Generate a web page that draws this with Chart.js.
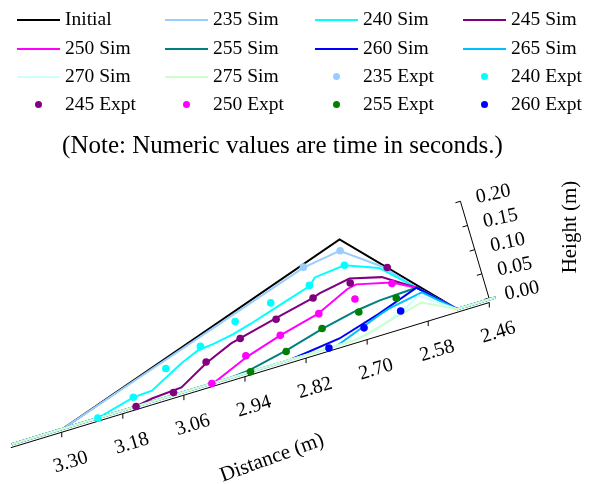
<!DOCTYPE html>
<html>
<head>
<meta charset="utf-8">
<script src="https://cdn.jsdelivr.net/npm/chart.js@4.4.1/dist/chart.umd.min.js"></script>
<style>
  html, body { margin: 0; padding: 0; background: #fff; }
  #wrap { position: relative; width: 589px; height: 484px; font-family: 'Liberation Serif', 'Times New Roman', serif; color: #000; }
  #chart { position: absolute; left: 0; top: 0; }
  #legend { position: absolute; left: 17px; top: 5px; display: grid; grid-template-columns: 148px 150px 148px 120px; grid-auto-rows: 28.4px; }
  .item { display: flex; align-items: center; font-size: 19.5px; white-space: nowrap; }
  .swatch { width: 43px; height: 100%; position: relative; margin-right: 5px; }
  .swatch .line { position: absolute; left: 0; right: 0; top: 50%; height: 2px; margin-top: 0px; }
  .swatch .dot { position: absolute; left: 50%; top: 50%; width: 7px; height: 7px; margin: -3px 0 0 -4px; border-radius: 50%; }
  #note { position: absolute; left: -12px; width: 589px; top: 131px; text-align: center; font-size: 25px; }
</style>
</head>
<body>
<div id="wrap">
  <canvas id="chart" width="589" height="484"></canvas>
  <div id="legend"></div>
  <div id="note">(Note: Numeric values are time in seconds.)</div>
</div>
<script>
// profiles as [distance (m), height (m)]
const initial = [[3.40, 0], [3.30, 0], [2.70, 0.200], [2.525, 0], [2.45, 0]];
const sim235 = [[3.40, 0], [3.30, 0], [3.107, 0.062], [2.781, 0.167], [2.706, 0.178], [2.638, 0.124], [2.587, 0.064], [2.525, 0], [2.45, 0]];
const sim240 = [[3.40, 0], [3.30, 0], [3.231, 0], [3.156, 0.019], [3.119, 0.021], [3.051, 0.056], [3.014, 0.071], [2.984, 0.074], [2.943, 0.081], [2.905, 0.091], [2.842, 0.110], [2.778, 0.129], [2.765, 0.142], [2.705, 0.148], [2.644, 0.123], [2.587, 0.064], [2.525, 0], [2.45, 0]];
const sim245 = [[3.40, 0], [3.30, 0], [3.156, 0], [3.123, 0.006], [3.064, 0.010], [3.006, 0.042], [2.951, 0.065], [2.848, 0.089], [2.779, 0.104], [2.765, 0.109], [2.703, 0.120], [2.644, 0.104], [2.587, 0.064], [2.525, 0], [2.45, 0]];
const sim250 = [[3.40, 0], [3.30, 0], [3.003, 0], [2.928, 0.031], [2.858, 0.052], [2.779, 0.071], [2.713, 0.101], [2.694, 0.105], [2.629, 0.088], [2.587, 0.064], [2.525, 0], [2.45, 0]];
const sim255 = [[3.40, 0], [3.30, 0], [2.975, 0], [2.931, 0.004], [2.854, 0.020], [2.779, 0.040], [2.708, 0.055], [2.660, 0.061], [2.587, 0.064], [2.525, 0], [2.45, 0]];
const sim260 = [[3.40, 0], [3.30, 0], [2.853, 0], [2.753, 0.012], [2.669, 0.036], [2.587, 0.064], [2.525, 0], [2.45, 0]];
const sim265 = [[3.40, 0], [3.30, 0], [2.760, 0], [2.670, 0.033], [2.648, 0.040], [2.580, 0.052], [2.525, 0], [2.45, 0]];
const sim270 = [[3.40, 0], [3.30, 0], [2.730, 0], [2.680, 0.008], [2.620, 0.030], [2.588, 0.048], [2.525, 0], [2.45, 0]];
const sim275 = [[3.40, 0], [3.30, 0], [2.720, 0], [2.676, 0.011], [2.586, 0.033], [2.525, 0], [2.45, 0]];

const exp235 = [[2.780, 0.168], [2.705, 0.178]];
const exp240 = [[3.231, 0], [3.156, 0.019], [3.082, 0.055], [3.008, 0.077], [2.932, 0.104], [2.858, 0.119], [2.779, 0.130], [2.705, 0.148]];
const exp245 = [[3.156, 0], [3.081, 0.005], [3.006, 0.044], [2.932, 0.069], [2.857, 0.085], [2.779, 0.104], [2.704, 0.111], [2.629, 0.119]];
const exp250 = [[3.007, 0], [2.931, 0.033], [2.858, 0.052], [2.777, 0.071], [2.704, 0.078], [2.629, 0.086]];
const exp255 = [[2.931, 0], [2.856, 0.018], [2.779, 0.041], [2.704, 0.051], [2.629, 0.056]];
const exp260 = [[2.777, 0], [2.703, 0.018], [2.628, 0.029]];

const simLabels = ['Initial', '235 Sim', '240 Sim', '245 Sim', '250 Sim', '255 Sim', '260 Sim', '265 Sim', '270 Sim', '275 Sim'];
const simColors = ['#000000', '#99ccff', '#00ffff', '#800080', '#ff00ff', '#008080', '#0000ff', '#00bfff', '#ccffff', '#ccffcc'];
const simData = [initial, sim235, sim240, sim245, sim250, sim255, sim260, sim265, sim270, sim275];

const exptLabels = ['235 Expt', '240 Expt', '245 Expt', '250 Expt', '255 Expt', '260 Expt'];
const exptColors = ['#99ccff', '#00ffff', '#800080', '#ff00ff', '#008000', '#0000ff'];
const exptData = [exp235, exp240, exp245, exp250, exp255, exp260];

const distTicks = [3.30, 3.18, 3.06, 2.94, 2.82, 2.70, 2.58, 2.46];
const heightTicks = [0, 0.05, 0.10, 0.15, 0.20];
const distRange = [3.40, 2.46];

// oblique view: distance runs down-left, height runs up (slightly left)
function project(d, h) {
    return {
        x: 493 - 516 * (d - 2.46) - 145 * h,
        y: 300 + 157 * (d - 2.46) - 492 * h
    };
}

const axisPlugin = {
    id: 'obliqueAxes',
    beforeDatasetsDraw(chart) {
        const { ctx, scales: { x, y } } = chart;
        const px = (p, dx = 0, dy = 0) => [x.getPixelForValue(p.x) + dx, y.getPixelForValue(p.y) + dy];
        ctx.save();
        ctx.strokeStyle = '#000';
        ctx.fillStyle = '#000';
        ctx.lineWidth = 1;
        ctx.font = "20px 'Liberation Serif'";
        ctx.textAlign = 'center';
        ctx.textBaseline = 'middle';

        // distance axis
        const a0 = px(project(distRange[0], 0), -1, 3.5);
        const a1 = px(project(distRange[1], 0), -1, 3.5);
        ctx.beginPath();
        ctx.moveTo(a0[0], a0[1]);
        ctx.lineTo(a1[0], a1[1]);
        ctx.stroke();
        distTicks.forEach(d => {
            const p = px(project(d, 0), -1, 3.5);
            ctx.beginPath();
            ctx.moveTo(p[0], p[1]);
            ctx.lineTo(p[0], p[1] + 5);
            ctx.stroke();
            ctx.save();
            ctx.translate(p[0] + 9, p[1] + 30);
            ctx.rotate(-17 * Math.PI / 180);
            ctx.fillText(d.toFixed(2), 0, 0);
            ctx.restore();
        });

        // height axis
        const h0 = px(project(2.46, 0), -1.3, -1);
        const h1 = px(project(2.46, 0.20), -1.3, -1);
        ctx.beginPath();
        ctx.moveTo(h0[0], h0[1]);
        ctx.lineTo(h1[0], h1[1]);
        ctx.stroke();
        heightTicks.forEach(h => {
            const p = px(project(2.46, h), -1.3, -1);
            ctx.beginPath();
            ctx.moveTo(p[0], p[1]);
            ctx.lineTo(p[0] - 5, p[1] + 1.5);
            ctx.stroke();
            ctx.save();
            ctx.translate(p[0] + 33, p[1] - 7);
            ctx.rotate(-12 * Math.PI / 180);
            ctx.fillText(h.toFixed(2), 0, 0);
            ctx.restore();
        });

        // axis titles
        ctx.font = "21px 'Liberation Serif'";
        ctx.save();
        ctx.translate(272, 458);
        ctx.rotate(-20 * Math.PI / 180);
        ctx.fillText('Distance (m)', 0, 0);
        ctx.restore();
        ctx.save();
        ctx.translate(570, 227);
        ctx.rotate(-Math.PI / 2);
        ctx.fillText('Height (m)', 0, 0);
        ctx.restore();
        ctx.restore();
    }
};

const datasets = simLabels.map((label, i) => ({
    label: label,
    data: simData[i].map(([d, h]) => project(d, h)),
    showLine: true,
    borderColor: simColors[i],
    backgroundColor: simColors[i],
    borderWidth: 2,
    pointRadius: 0,
    order: 20 - i
})).concat(exptLabels.map((label, i) => ({
    label: label,
    data: exptData[i].map(([d, h]) => project(d, h)),
    showLine: false,
    pointRadius: 3.8,
    pointBorderWidth: 0,
    pointBackgroundColor: exptColors[i],
    backgroundColor: exptColors[i],
    borderColor: exptColors[i],
    order: 0
})));

const chart = new Chart(document.getElementById('chart'), {
    type: 'scatter',
    data: { datasets: datasets },
    options: {
        responsive: false,
        animation: false,
        devicePixelRatio: 1,
        layout: { padding: 0 },
        plugins: { legend: { display: false }, tooltip: { enabled: false } },
        scales: {
            x: { type: 'linear', display: false, min: 0, max: 589 },
            y: { type: 'linear', display: false, min: 0, max: 484, reverse: true }
        }
    },
    plugins: [axisPlugin]
});

// legend grid, 4 columns
const legendEl = document.getElementById('legend');
chart.data.datasets.forEach(ds => {
    const item = document.createElement('div');
    item.className = 'item';
    const sw = document.createElement('span');
    sw.className = 'swatch';
    const mark = document.createElement('span');
    mark.className = ds.showLine ? 'line' : 'dot';
    mark.style.background = ds.showLine ? ds.borderColor : ds.pointBackgroundColor;
    sw.appendChild(mark);
    item.appendChild(sw);
    item.appendChild(document.createTextNode(ds.label));
    legendEl.appendChild(item);
});
</script>
</body>
</html>
